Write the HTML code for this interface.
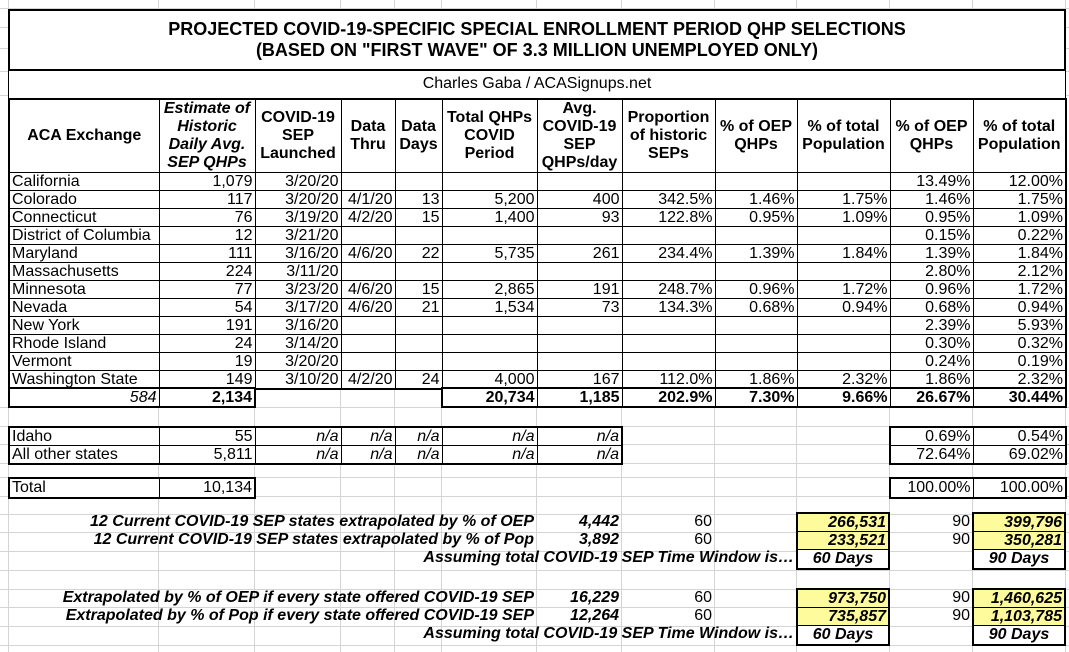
<!DOCTYPE html>
<html><head><meta charset="utf-8"><style>
body{margin:0;width:1069px;height:652px;background:#fff;position:relative;overflow:hidden;font-family:"Liberation Sans",Arial,sans-serif;font-size:16px;color:#000}
.g{position:absolute;background:#d4d4d4}
.v{width:1px;top:0;height:652px}
.h{height:1px;left:0;width:1069px}
table{position:absolute;border-collapse:collapse;table-layout:fixed;background:#fff}
td{padding:0 2px;white-space:nowrap;overflow:hidden;line-height:16px;text-align:right}
.m td{border:1px solid #000;height:17px}
.m{border:2px solid #000}
.hd td{height:71px;text-align:center;font-weight:bold;line-height:18px}
.l{text-align:left!important}
.i{font-style:italic}
.b{font-weight:bold}
.t{position:absolute;white-space:nowrap;font-weight:bold;font-style:italic;text-align:right;line-height:18px}
.y{background:#fdfb9c}
</style></head><body>
<div class="g v" style="left:8px"></div><div class="g v" style="left:158px"></div><div class="g v" style="left:254px"></div><div class="g v" style="left:340px"></div><div class="g v" style="left:394px"></div><div class="g v" style="left:441px"></div><div class="g v" style="left:536px"></div><div class="g v" style="left:621px"></div><div class="g v" style="left:714px"></div><div class="g v" style="left:796px"></div><div class="g v" style="left:889px"></div><div class="g v" style="left:972px"></div><div class="g v" style="left:1065px"></div>
<div class="g h" style="top:8px"></div><div class="g h" style="top:27px"></div><div class="g h" style="top:48px"></div><div class="g h" style="top:71px"></div><div class="g h" style="top:95px"></div>
<div class="g h" style="top:407px"></div><div class="g h" style="top:426px"></div><div class="g h" style="top:444px"></div><div class="g h" style="top:463px"></div><div class="g h" style="top:477px"></div><div class="g h" style="top:496px"></div><div class="g h" style="top:514px"></div><div class="g h" style="top:532px"></div><div class="g h" style="top:551px"></div><div class="g h" style="top:570px"></div><div class="g h" style="top:589px"></div><div class="g h" style="top:607px"></div><div class="g h" style="top:626px"></div><div class="g h" style="top:645px"></div>

<div style="position:absolute;left:8px;top:9px;width:1058px;height:62px;box-sizing:border-box;border:2px solid #000;background:#fff;text-align:center;font-weight:bold;font-size:18px;line-height:21px;padding-top:8px">PROJECTED COVID-19-SPECIFIC SPECIAL ENROLLMENT PERIOD QHP SELECTIONS<br>(BASED ON "FIRST WAVE" OF 3.3 MILLION UNEMPLOYED ONLY)</div>
<div style="position:absolute;left:8px;top:71px;width:1058px;height:28px;box-sizing:border-box;border-left:1px solid #000;border-right:1px solid #000;background:#fff;text-align:center;line-height:26px">Charles Gaba / ACASignups.net</div>

<table class="m" style="left:8px;top:98px;width:1058px">
<colgroup><col style="width:150px"><col style="width:96px"><col style="width:86px"><col style="width:54px"><col style="width:47px"><col style="width:95px"><col style="width:85px"><col style="width:93px"><col style="width:82px"><col style="width:93px"><col style="width:83px"><col style="width:93px"></colgroup>
<tr class="hd"><td>ACA Exchange</td><td class="i">Estimate of<br>Historic<br>Daily Avg.<br>SEP QHPs</td><td>COVID-19<br>SEP<br>Launched</td><td>Data<br>Thru</td><td>Data<br>Days</td><td>Total QHPs<br>COVID<br>Period</td><td>Avg.<br>COVID-19<br>SEP<br>QHPs/day</td><td>Proportion<br>of historic<br>SEPs</td><td>% of OEP<br>QHPs</td><td>% of total<br>Population</td><td>% of OEP<br>QHPs</td><td>% of total<br>Population</td></tr>
<tr><td class="l">California</td><td>1,079</td><td>3/20/20</td><td></td><td></td><td></td><td></td><td></td><td></td><td></td><td>13.49%</td><td>12.00%</td></tr>
<tr><td class="l">Colorado</td><td>117</td><td>3/20/20</td><td>4/1/20</td><td>13</td><td>5,200</td><td>400</td><td>342.5%</td><td>1.46%</td><td>1.75%</td><td>1.46%</td><td>1.75%</td></tr>
<tr><td class="l">Connecticut</td><td>76</td><td>3/19/20</td><td>4/2/20</td><td>15</td><td>1,400</td><td>93</td><td>122.8%</td><td>0.95%</td><td>1.09%</td><td>0.95%</td><td>1.09%</td></tr>
<tr><td class="l">District of Columbia</td><td>12</td><td>3/21/20</td><td></td><td></td><td></td><td></td><td></td><td></td><td></td><td>0.15%</td><td>0.22%</td></tr>
<tr><td class="l">Maryland</td><td>111</td><td>3/16/20</td><td>4/6/20</td><td>22</td><td>5,735</td><td>261</td><td>234.4%</td><td>1.39%</td><td>1.84%</td><td>1.39%</td><td>1.84%</td></tr>
<tr><td class="l">Massachusetts</td><td>224</td><td>3/11/20</td><td></td><td></td><td></td><td></td><td></td><td></td><td></td><td>2.80%</td><td>2.12%</td></tr>
<tr><td class="l">Minnesota</td><td>77</td><td>3/23/20</td><td>4/6/20</td><td>15</td><td>2,865</td><td>191</td><td>248.7%</td><td>0.96%</td><td>1.72%</td><td>0.96%</td><td>1.72%</td></tr>
<tr><td class="l">Nevada</td><td>54</td><td>3/17/20</td><td>4/6/20</td><td>21</td><td>1,534</td><td>73</td><td>134.3%</td><td>0.68%</td><td>0.94%</td><td>0.68%</td><td>0.94%</td></tr>
<tr><td class="l">New York</td><td>191</td><td>3/16/20</td><td></td><td></td><td></td><td></td><td></td><td></td><td></td><td>2.39%</td><td>5.93%</td></tr>
<tr><td class="l">Rhode Island</td><td>24</td><td>3/14/20</td><td></td><td></td><td></td><td></td><td></td><td></td><td></td><td>0.30%</td><td>0.32%</td></tr>
<tr><td class="l">Vermont</td><td>19</td><td>3/20/20</td><td></td><td></td><td></td><td></td><td></td><td></td><td></td><td>0.24%</td><td>0.19%</td></tr>
<tr><td class="l">Washington State</td><td>149</td><td>3/10/20</td><td>4/2/20</td><td>24</td><td>4,000</td><td>167</td><td>112.0%</td><td>1.86%</td><td>2.32%</td><td>1.86%</td><td>2.32%</td></tr>
</table>

<table class="m" style="left:8px;top:387px;width:246px"><colgroup><col style="width:150px"><col style="width:96px"></colgroup>
<tr><td class="i" style="height:17px">584</td><td class="b">2,134</td></tr></table>
<table class="m" style="left:441px;top:387px;width:625px"><colgroup><col style="width:95px"><col style="width:85px"><col style="width:93px"><col style="width:82px"><col style="width:93px"><col style="width:83px"><col style="width:93px"></colgroup>
<tr class="b"><td style="height:17px">20,734</td><td>1,185</td><td>202.9%</td><td>7.30%</td><td>9.66%</td><td>26.67%</td><td>30.44%</td></tr></table>

<table class="m" style="left:8px;top:426px;width:614px"><colgroup><col style="width:150px"><col style="width:96px"><col style="width:86px"><col style="width:54px"><col style="width:47px"><col style="width:95px"><col style="width:85px"></colgroup>
<tr><td class="l">Idaho</td><td>55</td><td class="i">n/a</td><td class="i">n/a</td><td class="i">n/a</td><td class="i">n/a</td><td class="i">n/a</td></tr>
<tr><td class="l">All other states</td><td>5,811</td><td class="i">n/a</td><td class="i">n/a</td><td class="i">n/a</td><td class="i">n/a</td><td class="i">n/a</td></tr></table>
<table class="m" style="left:889px;top:426px;width:177px"><colgroup><col style="width:83px"><col style="width:93px"></colgroup>
<tr><td>0.69%</td><td>0.54%</td></tr><tr><td>72.64%</td><td>69.02%</td></tr></table>

<table class="m" style="left:8px;top:477px;width:246px"><colgroup><col style="width:150px"><col style="width:96px"></colgroup>
<tr><td class="l" style="height:18px">Total</td><td>10,134</td></tr></table>
<table class="m" style="left:889px;top:477px;width:177px"><colgroup><col style="width:83px"><col style="width:93px"></colgroup>
<tr><td style="height:18px">100.00%</td><td>100.00%</td></tr></table>

<div class="t" style="right:535px;top:513px">12 Current COVID-19 SEP states extrapolated by % of OEP</div>
<div class="t" style="right:535px;top:531px">12 Current COVID-19 SEP states extrapolated by % of Pop</div>
<div class="t" style="right:275px;top:549px">Assuming total COVID-19 SEP Time Window is…</div>
<div class="t" style="right:450px;top:513px">4,442</div>
<div class="t" style="right:450px;top:531px">3,892</div>
<div class="t" style="right:357px;top:513px;font-weight:normal;font-style:normal">60</div>
<div class="t" style="right:357px;top:531px;font-weight:normal;font-style:normal">60</div>
<div class="t" style="right:99px;top:513px;font-weight:normal;font-style:normal">90</div>
<div class="t" style="right:99px;top:531px;font-weight:normal;font-style:normal">90</div>
<table class="m" style="left:796px;top:512px;width:94px"><tr><td class="y b i" style="height:17px">266,531</td></tr><tr><td class="y b i" style="height:17px">233,521</td></tr><tr><td class="b i" style="text-align:center;height:18px">60 Days</td></tr></table>
<table class="m" style="left:972px;top:512px;width:94px"><tr><td class="y b i" style="height:17px">399,796</td></tr><tr><td class="y b i" style="height:17px">350,281</td></tr><tr><td class="b i" style="text-align:center;height:18px">90 Days</td></tr></table>

<div class="t" style="right:535px;top:589px">Extrapolated by % of OEP if every state offered COVID-19 SEP</div>
<div class="t" style="right:535px;top:607px">Extrapolated by % of Pop if every state offered COVID-19 SEP</div>
<div class="t" style="right:275px;top:625px">Assuming total COVID-19 SEP Time Window is…</div>
<div class="t" style="right:450px;top:589px">16,229</div>
<div class="t" style="right:450px;top:607px">12,264</div>
<div class="t" style="right:357px;top:589px;font-weight:normal;font-style:normal">60</div>
<div class="t" style="right:357px;top:607px;font-weight:normal;font-style:normal">60</div>
<div class="t" style="right:99px;top:589px;font-weight:normal;font-style:normal">90</div>
<div class="t" style="right:99px;top:607px;font-weight:normal;font-style:normal">90</div>
<table class="m" style="left:796px;top:588px;width:94px"><tr><td class="y b i" style="height:17px">973,750</td></tr><tr><td class="y b i" style="height:17px">735,857</td></tr><tr><td class="b i" style="text-align:center;height:18px">60 Days</td></tr></table>
<table class="m" style="left:972px;top:588px;width:94px"><tr><td class="y b i" style="height:17px">1,460,625</td></tr><tr><td class="y b i" style="height:17px">1,103,785</td></tr><tr><td class="b i" style="text-align:center;height:18px">90 Days</td></tr></table>
</body></html>
